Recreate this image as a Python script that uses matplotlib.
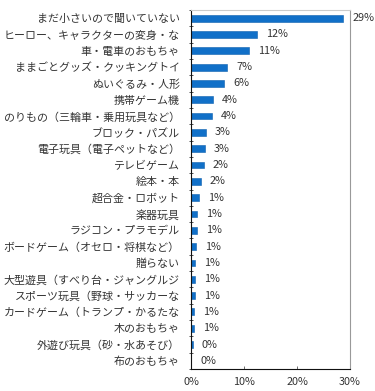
import matplotlib
matplotlib.use("Agg")
import matplotlib.pyplot as plt
import numpy as np

plt.rcParams['font.family'] = ['Noto Sans CJK JP', 'DejaVu Sans']

categories = [
    "まだ小さいので聞いていない",
    "ヒーロー、キャラクターの変身・な",
    "車・電車のおもちゃ",
    "ままごとグッズ・クッキングトイ",
    "ぬいぐるみ・人形",
    "携帯ゲーム機",
    "のりもの（三輪車・乗用玩具など）",
    "ブロック・パズル",
    "電子玩具（電子ペットなど）",
    "テレビゲーム",
    "絵本・本",
    "超合金・ロボット",
    "楽器玩具",
    "ラジコン・プラモデル",
    "ボードゲーム（オセロ・将棋など）",
    "贈らない",
    "大型遊具（すべり台・ジャングルジ",
    "スポーツ玩具（野球・サッカーな",
    "カードゲーム（トランプ・かるたな",
    "木のおもちゃ",
    "外遊び玩具（砂・水あそび）",
    "布のおもちゃ",
]
values = [28.7, 12.4, 10.9, 6.8, 6.3, 4.1, 4.0, 2.8, 2.6, 2.4, 1.8, 1.5,
          1.2, 1.1, 0.9, 0.8, 0.7, 0.7, 0.6, 0.6, 0.3, 0.0]
value_labels = ["29%", "12%", "11%", "7%", "6%", "4%", "4%", "3%", "3%", "2%",
                "2%", "1%", "1%", "1%", "1%", "1%", "1%", "1%", "1%", "1%",
                "0%", "0%"]
x_ticks = [0, 10, 20, 30]
x_tick_labels = ["0%", "10%", "20%", "30%"]

fig = plt.figure(figsize=(3.75, 3.91), dpi=100)
ax = fig.add_axes([191/375, 1-369/391, (350-191)/375, (369-10)/391])

y = np.arange(len(categories))
ax.barh(y, values, height=0.42, color='#1170c8', edgecolor='#0e5fae', linewidth=0.4)
ax.set_ylim(len(categories) - 0.5, -0.5)
ax.set_xlim(0, 30)

for yi, v, lab in zip(y, values, value_labels):
    ax.annotate(lab, xy=(v, yi), xytext=(6.5, 0), textcoords='offset points',
                ha='left', va='center', fontsize=7.8, color='#333333')

ax.set_yticks(y)
ax.set_yticklabels(categories, fontsize=7.9, color='#333333')
ax.tick_params(axis='y', which='major', length=0, pad=8)
ax.set_yticks(np.arange(len(categories) + 1) - 0.5, minor=True)
ax.tick_params(axis='y', which='minor', length=2.5, direction='inout', color='#333333', width=0.6)

ax.set_xticks(x_ticks)
ax.set_xticklabels(x_tick_labels, fontsize=7.8, color='#333333')
ax.tick_params(axis='x', length=2.5, direction='in', color='#555555', pad=6, width=0.6)

ax.spines['left'].set_color('#111111')
ax.spines['bottom'].set_color('#111111')
ax.spines['right'].set_color('#999999')
ax.spines['top'].set_color('#cccccc')
for s in ax.spines.values():
    s.set_linewidth(0.8)

fig.savefig('out.png', dpi=100)
